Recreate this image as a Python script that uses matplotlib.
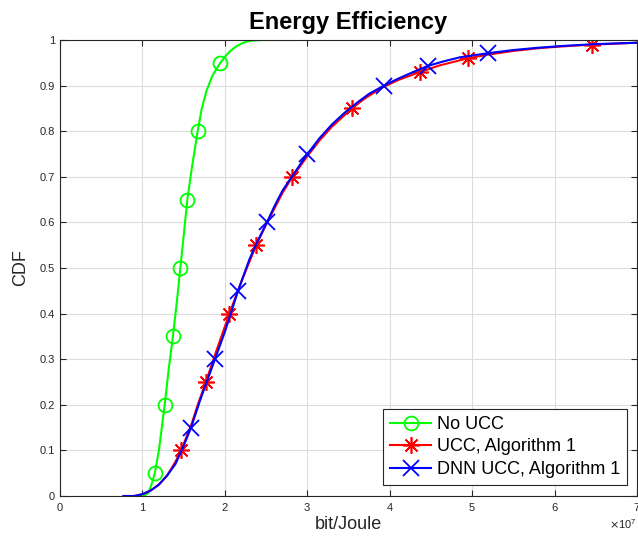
import numpy as np
import matplotlib
matplotlib.use("Agg")
import matplotlib.pyplot as plt
from matplotlib.ticker import FuncFormatter, ScalarFormatter

plt.rcParams['font.family'] = ['Liberation Sans', 'DejaVu Sans']

SCALE = 1e7  # x values below are in units of 1e7 bit/Joule

# No UCC
no_ucc_x = [0.95, 1.0, 1.03, 1.07, 1.11, 1.15, 1.2, 1.27, 1.32, 1.37, 1.42, 1.46, 1.5,
            1.545, 1.6, 1.67, 1.72, 1.78, 1.85, 1.945, 2.0, 2.06, 2.13, 2.2, 2.27,
            2.35, 2.45, 2.6, 2.81]
no_ucc_y = [0, 0.0, 0.002, 0.006, 0.025, 0.05, 0.10, 0.20, 0.28, 0.35, 0.43, 0.50, 0.57,
            0.65, 0.72, 0.80, 0.85, 0.89, 0.922, 0.95, 0.963, 0.975, 0.985, 0.992, 0.997,
            0.999, 1.0, 1.0, 1.0]
no_ucc_marks = [5, 7, 9, 11, 13, 15, 19]

# UCC, Algorithm 1
ucc_x = [0.77, 0.9, 1.0, 1.1, 1.2, 1.3, 1.4, 1.47, 1.6, 1.68, 1.77, 1.9, 2.055, 2.2,
         2.38, 2.5, 2.6, 2.7, 2.82, 3.0, 3.15, 3.3, 3.54, 3.7, 3.9, 4.1, 4.37, 4.6,
         4.95, 5.2, 5.5, 5.8, 6.1, 6.46, 7.0]
ucc_y = [0, 0, 0.004, 0.012, 0.025, 0.045, 0.075, 0.10, 0.16, 0.205, 0.25, 0.32, 0.40,
         0.47, 0.55, 0.595, 0.63, 0.665, 0.70, 0.745, 0.78, 0.81, 0.85, 0.872, 0.895,
         0.912, 0.93, 0.944, 0.96, 0.968, 0.976, 0.982, 0.986, 0.99, 0.994]
ucc_marks = [7, 10, 12, 14, 18, 22, 26, 28, 33]

# DNN UCC, Algorithm 1
dnn_x = [0.77, 0.9, 1.0, 1.1, 1.2, 1.3, 1.4, 1.5, 1.59, 1.7, 1.8, 1.88, 2.0, 2.16,
         2.3, 2.4, 2.51, 2.6, 2.7, 2.85, 3.0, 3.15, 3.3, 3.45, 3.6, 3.75, 3.93, 4.1,
         4.25, 4.46, 4.65, 4.85, 5.19, 5.5, 5.8, 6.1, 6.5, 7.0]
dnn_y = [0, 0, 0.004, 0.012, 0.025, 0.045, 0.07, 0.11, 0.15, 0.21, 0.26, 0.30, 0.36,
         0.45, 0.52, 0.56, 0.60, 0.635, 0.67, 0.71, 0.75, 0.785, 0.815, 0.84, 0.862,
         0.882, 0.90, 0.915, 0.927, 0.943, 0.953, 0.962, 0.971, 0.978, 0.983, 0.987,
         0.991, 0.994]
dnn_marks = [8, 11, 13, 16, 20, 26, 29, 32]

fig = plt.figure(figsize=(6.38, 5.42), dpi=100)
ax = fig.add_axes([60 / 638, 46 / 542, 577 / 638, 456 / 542])

ax.plot(np.array(no_ucc_x) * SCALE, no_ucc_y, color=(0, 1, 0), lw=1.5, marker='o',
        ms=10, mfc='none', mew=1.3, markevery=no_ucc_marks, label='No UCC')
ax.plot(np.array(ucc_x) * SCALE, ucc_y, color=(1, 0, 0), lw=1.5, marker=(8, 2, 0),
        ms=12, mew=1.2, markevery=ucc_marks, label='UCC, Algorithm 1')
ax.plot(np.array(dnn_x) * SCALE, dnn_y, color=(0, 0, 1), lw=1.5, marker='x',
        ms=11, mew=1.3, markevery=dnn_marks, label='DNN UCC, Algorithm 1')

ax.set_xlim(0, 7e7)
ax.set_ylim(0, 1)
ax.set_xticks(np.arange(0, 8) * SCALE)
ax.set_yticks(np.arange(0, 1.01, 0.1))
fmt = ScalarFormatter(useMathText=True)
fmt.set_powerlimits((0, 0))
ax.xaxis.set_major_formatter(fmt)
ax.yaxis.set_major_formatter(FuncFormatter(lambda v, p: '%g' % round(v, 2)))

dark = '#262626'
ax.grid(True, color='#dcdcdc', lw=0.8)
ax.set_axisbelow(True)
for s in ax.spines.values():
    s.set_color(dark)
    s.set_linewidth(0.8)
ax.tick_params(direction='in', top=True, right=True, length=4, color=dark,
               labelsize=8, labelcolor=dark)
ax.xaxis.get_offset_text().set_fontsize(8)
ax.xaxis.get_offset_text().set_color(dark)

ax.set_xlabel('bit/Joule', fontsize=13, color=dark, labelpad=2)
ax.set_ylabel('CDF', fontsize=13, color=dark, labelpad=8)
ax.set_title('Energy Efficiency', fontsize=17, fontweight='bold', pad=8)

leg = ax.legend(loc='lower right', bbox_to_anchor=(0.983, 0.024), fontsize=13,
                fancybox=False, framealpha=1, edgecolor=dark, borderpad=0.4,
                labelspacing=0.3, handlelength=2.3, handletextpad=0.3,
                borderaxespad=0)
leg.get_frame().set_linewidth(0.8)

fig.savefig('out.png', dpi=100)
